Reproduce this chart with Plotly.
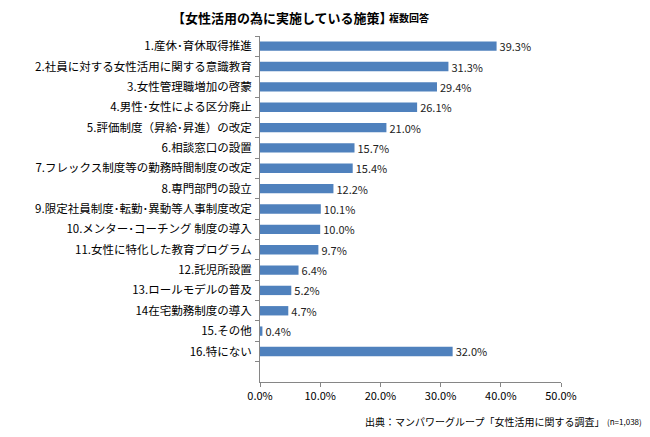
import plotly.graph_objects as go

categories = [
    "1.産休･育休取得推進",
    "2.社員に対する女性活用に関する意識教育",
    "3.女性管理職増加の啓蒙",
    "4.男性･女性による区分廃止",
    "5.評価制度（昇給･昇進）の改定",
    "6.相談窓口の設置",
    "7.フレックス制度等の勤務時間制度の改定",
    "8.専門部門の設立",
    "9.限定社員制度･転勤･異動等人事制度改定",
    "10.メンター･コーチング 制度の導入",
    "11.女性に特化した教育プログラム",
    "12.託児所設置",
    "13.ロールモデルの普及",
    "14在宅勤務制度の導入",
    "15.その他",
    "16.特にない",
    " ",
]
values = [39.3, 31.3, 29.4, 26.1, 21.0, 15.7, 15.4, 12.2, 10.1, 10.0, 9.7, 6.4, 5.2, 4.7, 0.4, 32.0, None]
x_ticks = [0, 10, 20, 30, 40, 50]
x_tick_labels = ["0.0%", "10.0%", "20.0%", "30.0%", "40.0%", "50.0%"]

FONT = "Noto Sans CJK JP"
labels = ["" if v is None else f"{v:.1f}%" for v in values]

# page body has an 8px default margin: compensate
OFF = 8
W, H = 650 - OFF, 437 - OFF
L, R, T, B = 260 - OFF, W + OFF - 561, 36 - OFF, H + OFF - 382

fig = go.Figure(go.Bar(
    y=categories, x=values, orientation="h",
    marker=dict(color="#4F81BD", line=dict(width=0)),
    text=labels, textposition="outside", cliponaxis=False, constraintext="none",
    textfont=dict(family=FONT, size=11, color="#222222"),
    width=0.46,
))

fig.update_layout(
    width=W, height=H,
    margin=dict(l=L, r=R, t=T, b=B, autoexpand=False),
    paper_bgcolor="white", plot_bgcolor="white",
    font=dict(family=FONT, size=11, color="black"),
    showlegend=False,
    xaxis=dict(
        range=[0, 50], tickvals=x_ticks, ticktext=x_tick_labels,
        showgrid=False, zeroline=False, showline=True, linecolor="#868686",
        ticks="outside", ticklen=4, tickcolor="#868686", automargin=False,
        tickfont=dict(size=11, color="black"), fixedrange=True,
    ),
    yaxis=dict(
        type="category", categoryorder="array", categoryarray=categories,
        autorange="reversed", showgrid=False, zeroline=False,
        showline=True, linecolor="#868686", automargin=False,
        ticks="outside", ticklen=4, tickcolor="#868686", tickson="boundaries",
        ticklabelstandoff=5,
        tickfont=dict(size=11.5, color="black"),
    ),
)

pw = W - L - R
ph = H - T - B

def px(xp):
    return (xp - OFF - L) / pw

def py(yp):
    return (H - (yp - OFF) - B) / ph

fig.add_annotation(
    text="<b>【女性活用の為に実施している施策】</b>",
    x=px(394), y=py(17), xref="paper", yref="paper", xanchor="right", yanchor="middle",
    showarrow=False, borderpad=0, font=dict(family=FONT, size=13, color="black"),
)
fig.add_annotation(
    text="<b>複数回答</b>",
    x=px(388), y=py(18), xref="paper", yref="paper", xanchor="left", yanchor="middle",
    showarrow=False, borderpad=0, font=dict(family=FONT, size=10, color="black"),
)
fig.add_annotation(
    text="出典：マンパワーグループ「女性活用に関する調査」",
    x=px(606), y=py(421), xref="paper", yref="paper",
    xanchor="right", yanchor="middle", showarrow=False,
    font=dict(family=FONT, size=10, color="black"),
)
fig.add_annotation(
    text="(n=1,038)",
    x=px(605), y=py(421), xref="paper", yref="paper",
    xanchor="left", yanchor="middle", showarrow=False,
    font=dict(family=FONT, size=8, color="black"),
)

fig.write_html("out.html")
